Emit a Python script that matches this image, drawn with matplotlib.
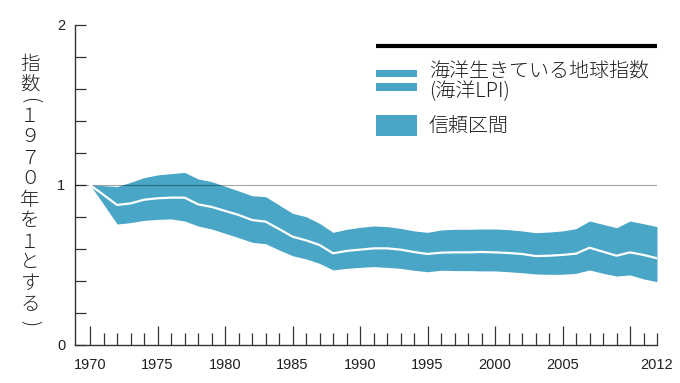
"""
Marine Living Planet Index (1970 = 1) with its confidence band.
"""

import matplotlib
matplotlib.use("Agg")
import matplotlib.pyplot as plt
from matplotlib.patches import Rectangle
from matplotlib.lines import Line2D


years = list(range(1970, 2013))

lpi_index = [1.000, 0.938, 0.875, 0.885, 0.908, 0.917, 0.921, 0.921, 0.879, 0.863,
             0.838, 0.813, 0.781, 0.771, 0.725, 0.677, 0.654, 0.625, 0.573, 0.588,
             0.596, 0.604, 0.604, 0.596, 0.581, 0.569, 0.577, 0.579, 0.579, 0.581,
             0.579, 0.575, 0.569, 0.556, 0.558, 0.563, 0.571, 0.608, 0.583, 0.558,
             0.579, 0.563, 0.542]

ci_upper = [1.000, 0.996, 0.990, 1.017, 1.046, 1.063, 1.071, 1.079, 1.038, 1.021,
            0.992, 0.963, 0.933, 0.927, 0.875, 0.823, 0.802, 0.760, 0.704, 0.723,
            0.735, 0.744, 0.740, 0.729, 0.713, 0.704, 0.719, 0.723, 0.723, 0.725,
            0.725, 0.721, 0.713, 0.702, 0.706, 0.713, 0.727, 0.775, 0.754, 0.733,
            0.775, 0.758, 0.740]

ci_lower = [1.000, 0.879, 0.756, 0.765, 0.779, 0.785, 0.788, 0.775, 0.744, 0.725,
            0.698, 0.671, 0.642, 0.633, 0.594, 0.558, 0.538, 0.510, 0.469, 0.479,
            0.485, 0.490, 0.485, 0.479, 0.467, 0.458, 0.467, 0.465, 0.465, 0.463,
            0.463, 0.458, 0.452, 0.444, 0.442, 0.442, 0.448, 0.469, 0.448, 0.431,
            0.438, 0.413, 0.396]

x_labels = ["1970", "1975", "1980", "1985", "1990", "1995", "2000", "2005", "", "2012"]
y_label_chars = ["指", "数", "(", "１", "９", "７", "０", "年", "を", "１", "と", "す", "る", ")"]
legend_line = ["海洋生きている地球指数", "(海洋LPI)"]
legend_band = "信頼区間"

BLUE = "#49a6c6"
INK = "#231f20"
JP = ["Noto Sans CJK JP", "DejaVu Sans"]
NUM = ["Liberation Sans", "DejaVu Sans"]

W, H = 680, 383


def fx(px):
    return px / W


def fy(py):
    return 1 - py / H


fig = plt.figure(figsize=(W / 100, H / 100), dpi=100)
ax = fig.add_axes([fx(75), fy(345), fx(657) - fx(75), fy(25) - fy(345)])

ax.fill_between(years, ci_lower, ci_upper, color=BLUE, lw=0, zorder=2)
ax.plot(years, lpi_index, color="white", lw=1.6, zorder=4)
ax.axhline(1, color="black", alpha=0.35, lw=0.8, zorder=3)

ax.set_xlim(1968.88, 2012)
ax.set_ylim(0, 2)

for side in ["top", "right"]:
    ax.spines[side].set_visible(False)
for side in ["left", "bottom"]:
    ax.spines[side].set_color("#333333")
    ax.spines[side].set_linewidth(1.0)

# x axis: tall ticks every 5 years, short ones every year, label 2012
ax.set_xticks(list(range(1970, 2011, 5)) + [2012])
ax.set_xticklabels(x_labels, fontfamily=NUM, fontsize=10.5, color=INK)
ax.set_xticks(range(1970, 2013), minor=True)
ax.tick_params(axis="x", which="major", direction="in", length=14, width=0.9,
               color="#333333", pad=9.5)
ax.tick_params(axis="x", which="minor", direction="in", length=8.5, width=0.9,
               color="#333333")
ax.xaxis.get_major_ticks()[-1].tick1line.set_markersize(8.5)

# y axis: ticks every 0.2, labels at 0, 1, 2
ax.set_yticks([0, 1, 2])
ax.set_yticklabels(["0", "1", "2"], fontfamily=NUM, fontsize=10.5, color=INK)
ax.set_yticks([i * 0.2 for i in range(11)], minor=True)
ax.tick_params(axis="y", which="both", direction="in", length=8, width=0.9,
               color="#333333", pad=7)

# vertical (tategaki) y label
char_y = [64, 84, 100, 116, 137, 158, 179, 200, 221, 242, 262, 283, 305, 323]
for ch, py in zip(y_label_chars, char_y):
    rot = -90 if ch in "()" else 0
    fig.text(fx(30), fy(py), ch, ha="center", va="center", rotation=rot,
             fontsize=14, family=JP, weight="light", color=INK)

# legend drawn by hand
fig.add_artist(Line2D([fx(376), fx(657)], [fy(45.5), fy(45.5)], color="black",
                      lw=3, solid_capstyle="butt"))
fig.add_artist(Rectangle((fx(376), fy(77)), fx(417) - fx(376), fy(70) - fy(77),
                         color=BLUE, lw=0))
fig.add_artist(Rectangle((fx(376), fy(91)), fx(417) - fx(376), fy(83) - fy(91),
                         color=BLUE, lw=0))
fig.add_artist(Rectangle((fx(376), fy(136)), fx(417) - fx(376), fy(115) - fy(136),
                         color=BLUE, lw=0))
for text, py in [(legend_line[0], 71), (legend_line[1], 92), (legend_band, 126)]:
    fig.text(fx(429), fy(py), text, va="center", fontsize=14.4, family=JP,
             weight="light", color=INK)

fig.savefig("out.png", dpi=100)
